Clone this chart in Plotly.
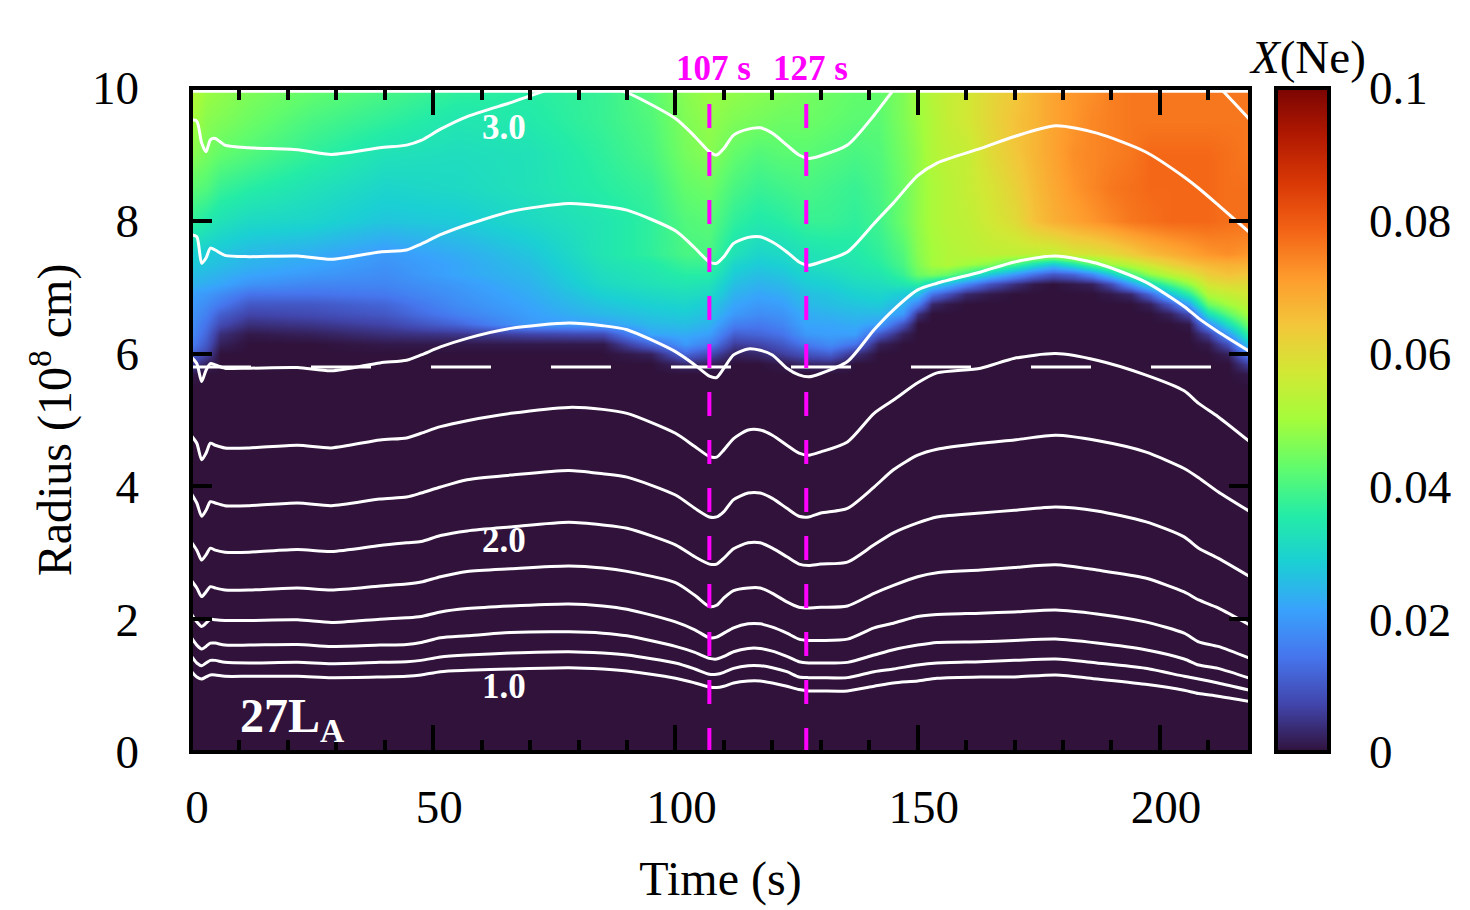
import numpy as np
import plotly.graph_objects as go

# the page body adds 8 px around the figure
BODY = 8
FIG_W = 1470 - BODY
FIG_H = 910 - BODY
SERIF = "Liberation Serif"

x_ticks = [0, 50, 100, 150, 200]
y_ticks = [0, 2, 4, 6, 8, 10]
cbar_ticks = [0, 0.02, 0.04, 0.06, 0.08, 0.1]
cbar_labels = ["0", "0.02", "0.04", "0.06", "0.08", "0.1"]
marker_times = [107, 127]
marker_labels = ["107 s", "127 s"]
shock_radius = 5.8

# contours of constant mass, radius in 10^8 cm
line_time = [0, 1.2, 2.2, 3.1, 4, 5, 7, 12, 22, 29, 39, 44.5, 47.5, 51.5, 57, 66, 78, 85, 90, 100,
             104, 107, 108.5, 110, 112, 115, 117.5, 120, 123, 125.5, 127.5, 130, 135.5, 141, 145,
             150, 154, 163, 170, 178.5, 187, 197, 205, 208, 212, 218.6]
line_1 = [1.22, 1.13, 1.10, 1.13, 1.16, 1.16, 1.14, 1.14, 1.14, 1.12, 1.13, 1.14, 1.16, 1.21, 1.23, 1.25, 1.27, 1.25, 1.22, 1.11,
          1.04, 0.98, 0.97, 0.99, 1.04, 1.07, 1.07, 1.04, 0.99, 0.94, 0.92, 0.92, 0.92, 0.99, 1.04,
          1.07, 1.11, 1.13, 1.13, 1.16, 1.10, 1.02, 0.93, 0.88, 0.84, 0.76]
line_2 = [1.45, 1.34, 1.30, 1.34, 1.38, 1.38, 1.35, 1.34, 1.35, 1.33, 1.35, 1.36, 1.38, 1.43, 1.46, 1.49, 1.51, 1.49, 1.46, 1.34,
          1.25, 1.17, 1.17, 1.20, 1.26, 1.30, 1.30, 1.27, 1.21, 1.13, 1.12, 1.12, 1.12, 1.21, 1.25,
          1.31, 1.34, 1.36, 1.38, 1.40, 1.34, 1.26, 1.14, 1.10, 1.04, 0.93]
line_3 = [1.73, 1.61, 1.55, 1.59, 1.64, 1.64, 1.61, 1.61, 1.62, 1.59, 1.61, 1.62, 1.65, 1.72, 1.75, 1.80, 1.81, 1.79, 1.75, 1.59,
          1.50, 1.41, 1.40, 1.44, 1.51, 1.56, 1.56, 1.52, 1.44, 1.36, 1.34, 1.34, 1.35, 1.46, 1.54,
          1.61, 1.65, 1.66, 1.68, 1.70, 1.64, 1.54, 1.40, 1.31, 1.26, 1.11]
line_4 = [2.09, 1.96, 1.89, 1.94, 2.00, 1.99, 1.98, 1.98, 1.99, 1.95, 2.00, 2.02, 2.04, 2.11, 2.16, 2.20, 2.23, 2.20, 2.15, 1.96,
          1.84, 1.72, 1.73, 1.79, 1.87, 1.93, 1.93, 1.88, 1.79, 1.70, 1.68, 1.68, 1.70, 1.87, 1.94,
          2.04, 2.07, 2.09, 2.11, 2.14, 2.08, 1.96, 1.79, 1.66, 1.59, 1.41]
line_5 = [2.59, 2.47, 2.34, 2.41, 2.49, 2.47, 2.44, 2.44, 2.47, 2.44, 2.50, 2.53, 2.56, 2.64, 2.72, 2.76, 2.80, 2.77, 2.72, 2.55,
          2.36, 2.19, 2.21, 2.32, 2.43, 2.47, 2.47, 2.39, 2.26, 2.18, 2.17, 2.18, 2.20, 2.39, 2.51,
          2.64, 2.70, 2.74, 2.78, 2.82, 2.74, 2.62, 2.41, 2.29, 2.17, 1.91]
line_6 = [3.17, 3.04, 2.89, 2.97, 3.07, 3.04, 3.01, 3.01, 3.05, 3.02, 3.11, 3.15, 3.17, 3.26, 3.33, 3.39, 3.46, 3.42, 3.37, 3.12,
          2.94, 2.83, 2.83, 2.92, 3.06, 3.15, 3.15, 3.07, 2.94, 2.83, 2.81, 2.83, 2.86, 3.12, 3.30,
          3.45, 3.54, 3.60, 3.64, 3.69, 3.63, 3.47, 3.24, 3.07, 2.92, 2.64]
line_7 = [3.90, 3.75, 3.55, 3.64, 3.77, 3.75, 3.71, 3.71, 3.75, 3.71, 3.81, 3.84, 3.90, 3.99, 4.10, 4.17, 4.24, 4.19, 4.14, 3.87,
          3.67, 3.54, 3.54, 3.62, 3.80, 3.90, 3.90, 3.82, 3.67, 3.55, 3.54, 3.60, 3.67, 3.99, 4.25,
          4.47, 4.56, 4.65, 4.70, 4.77, 4.69, 4.52, 4.27, 4.13, 3.92, 3.62]
line_8 = [4.77, 4.65, 4.40, 4.50, 4.65, 4.62, 4.58, 4.58, 4.62, 4.58, 4.70, 4.73, 4.80, 4.90, 4.99, 5.10, 5.19, 5.16, 5.10, 4.80,
          4.60, 4.45, 4.44, 4.55, 4.72, 4.85, 4.85, 4.77, 4.62, 4.50, 4.47, 4.52, 4.67, 5.10, 5.30,
          5.56, 5.71, 5.78, 5.93, 6.00, 5.90, 5.68, 5.44, 5.25, 5.05, 4.67]
line_9 = [5.95, 5.85, 5.58, 5.75, 5.85, 5.83, 5.78, 5.78, 5.79, 5.74, 5.86, 5.90, 5.98, 6.10, 6.23, 6.38, 6.46, 6.42, 6.36, 6.03,
          5.83, 5.66, 5.64, 5.78, 5.98, 6.07, 6.05, 5.98, 5.78, 5.68, 5.65, 5.70, 5.88, 6.36, 6.66,
          6.96, 7.06, 7.23, 7.38, 7.47, 7.36, 7.08, 6.71, 6.53, 6.33, 6.03]
line_10 = [7.79, 7.76, 7.36, 7.44, 7.59, 7.56, 7.48, 7.46, 7.47, 7.42, 7.53, 7.56, 7.65, 7.79, 7.94, 8.14, 8.26, 8.22, 8.16, 7.85,
           7.59, 7.38, 7.36, 7.46, 7.66, 7.75, 7.76, 7.68, 7.53, 7.38, 7.33, 7.38, 7.53, 7.96, 8.27,
           8.68, 8.87, 9.09, 9.27, 9.43, 9.32, 9.04, 8.66, 8.49, 8.24, 7.82]
line_11 = [9.52, 9.50, 9.17, 9.04, 9.22, 9.24, 9.14, 9.10, 9.07, 9.00, 9.10, 9.14, 9.21, 9.38, 9.57, 9.78, 10.06, 10.03, 9.93, 9.54,
           9.27, 9.04, 8.99, 9.09, 9.29, 9.38, 9.40, 9.32, 9.14, 8.99, 8.94, 8.98, 9.14, 9.59, 9.97,
           10.4, 10.6, 10.9, 11.0, 11.1, 11.0, 10.8, 10.5, 10.3, 10.03, 9.52]
contour_lines = [line_1, line_2, line_3, line_4, line_5, line_6, line_7, line_8, line_9, line_10, line_11]

# neon mass fraction, in units of 10^-3, rows follow map_radius
map_time = [0.5, 3, 6, 12, 25, 40, 55, 70, 85, 95, 102, 107, 112, 117, 122, 127, 132, 137, 142,
            147, 150, 153, 156, 160, 165, 170, 174, 178, 182, 186, 190, 194, 198, 202, 206, 210, 214, 218]
map_radius = [0, 5.5, 5.7, 5.85, 6.0, 6.15, 6.3, 6.45, 6.6, 6.75, 6.9, 7.05, 7.2, 7.35, 7.5, 8, 8.5, 9, 9.5, 9.95]
neon_milli = [
    [0] * 38,
    [0] * 38,
    [1] + [0] * 36 + [1],
    [6, 2, 0, 0, 0, 0, 0, 0, 0, 0, 3, 2, 0, 0, 1, 3, 3, 0, 0] + [0] * 18 + [6],
    [11, 7, 0, 0, 0, 0, 0, 0, 0, 2, 12, 8, 2, 3, 6, 9, 11, 4, 0] + [0] * 17 + [2, 15],
    [15, 10, 2, 0, 0, 1, 1, 1, 1, 12, 20, 16, 6, 7, 10, 15, 18, 14, 2] + [0] * 16 + [1, 9, 26],
    [17, 12, 4, 1, 2, 4, 5, 7, 8, 22, 23, 21, 11, 12, 14, 20, 21, 21, 10] + [2] + [0] * 15 + [6, 20, 36],
    [18, 14, 8, 4, 5, 7, 12, 20, 21, 25, 26, 24, 16, 15, 17, 22, 22, 23, 21] + [9] + [0] * 14 + [1, 18, 32, 44],
    [19, 16, 11, 7, 8, 10, 16, 21, 25, 27, 28, 26, 20, 18, 19, 23, 24, 25, 25] + [20, 4] + [0] * 12 + [2, 8, 32, 42, 50],
    [20, 18, 15, 10, 10, 12, 18, 22, 27, 29, 30, 28, 22, 20, 21, 25, 26, 27, 28,
     24, 16, 3, 1, 0, 0, 0, 0, 0, 0, 0, 0, 0, 2, 10, 22, 44, 50, 54],
    [21, 20, 18, 14, 14, 15, 19, 23, 29, 31, 32, 31, 24, 22, 23, 26, 27, 29, 30,
     28, 26, 14, 9, 3, 1, 0, 0, 0, 0, 0, 1, 3, 12, 26, 36, 52, 55, 57],
    [24, 23, 22, 19, 17, 17, 20, 24, 31, 33, 34, 33, 26, 24, 25, 28, 29, 31, 32,
     34, 36, 30, 25, 17, 9, 4, 1, 0, 1, 2, 8, 20, 32, 40, 48, 58, 60, 60],
    [26, 25, 24, 22, 20, 18, 22, 25, 32, 34, 36, 36, 28, 26, 27, 30, 31, 33, 34,
     38, 44, 46, 44, 38, 28, 20, 14, 10, 12, 18, 28, 40, 48, 54, 58, 63, 65, 64],
    [28, 27, 26, 24, 22, 19, 22, 26, 33, 35, 38, 38, 30, 28, 29, 32, 33, 34, 36,
     40, 46, 50, 52, 50, 47, 40, 33, 28, 34, 42, 50, 54, 58, 62, 65, 67, 68, 68],
    [29, 28, 27, 25, 23, 20, 23, 27, 34, 37, 40, 40, 33, 30, 31, 33, 34, 35, 37,
     41, 47, 50, 52, 53, 54, 54, 54, 54, 57, 58, 60, 63, 66, 68, 70, 72, 73, 72],
    [37, 35, 33, 31, 30, 27, 28, 31, 34, 37, 41, 42, 37, 35, 36, 38, 38, 37, 39,
     44, 48, 51, 53, 54, 57, 60, 65, 68, 70, 72, 74, 76, 77, 78, 78, 78, 77, 77],
    [42, 41, 38, 36, 33, 30, 31, 33, 36, 38, 43, 44, 40, 38, 39, 40, 39, 38, 40,
     44, 48, 51, 53, 55, 58, 62, 66, 69, 72, 74, 76, 77, 78, 78, 78, 78, 77, 77],
    [47, 45, 43, 41, 37, 33, 32, 33, 37, 40, 45, 47, 43, 41, 42, 42, 41, 40, 41,
     45, 48, 52, 54, 55, 60, 64, 67, 70, 73, 74, 75, 76, 78, 78, 78, 78, 77, 76],
    [50, 47, 46, 44, 40, 37, 34, 35, 38, 41, 46, 48, 46, 45, 44, 44, 43, 42, 42,
     46, 49, 52, 55, 57, 61, 65, 67, 70, 72, 74, 75, 76, 76, 76, 76, 76, 76, 76],
    [52, 49, 48, 46, 43, 40, 37, 36, 38, 42, 47, 49, 48, 47, 46, 45, 44, 43, 43,
     46, 50, 53, 55, 57, 61, 64, 67, 70, 72, 73, 75, 76, 76, 76, 76, 76, 76, 76],
]


def paper_x(px):
    return (px - BODY) / FIG_W


def paper_y(py):
    return 1 - (py - BODY) / FIG_H


fig = go.Figure()

fig.add_trace(go.Heatmap(
    x=map_time, y=map_radius, z=np.array(neon_milli) / 1000,
    colorscale="Turbo", zmin=0, zmax=0.1, zsmooth="best",
    colorbar=dict(
        x=paper_x(1276), xanchor="left", xpad=0,
        y=paper_y(752), yanchor="bottom", ypad=0,
        len=664 / FIG_H, lenmode="fraction",
        thickness=53, thicknessmode="pixels",
        outlinewidth=4, outlinecolor="black",
        tickmode="array", tickvals=cbar_ticks, ticktext=cbar_labels,
        ticks="outside", ticklen=29, tickwidth=1, tickcolor="rgba(0,0,0,0)",
        tickfont=dict(family=SERIF, size=47, color="black"),
    ),
))

# white gap under the top frame
fig.add_trace(go.Scatter(x=[0, 219], y=[9.95, 9.95], mode="lines", line=dict(color="white", width=2.7), showlegend=False))

for radius in contour_lines:
    fig.add_trace(go.Scatter(x=line_time, y=radius, mode="lines",
                             line=dict(color="white", width=3, shape="spline", smoothing=0.7), showlegend=False))

fig.add_trace(go.Scatter(x=[0, 219], y=[shock_radius, shock_radius], mode="lines",
                         line=dict(color="white", width=3, dash="60px,60px"), showlegend=False))

for t in marker_times:
    fig.add_trace(go.Scatter(x=[t, t], y=[9.76, 0], mode="lines",
                             line=dict(color="#ff00ff", width=4, dash="24px,24px"), showlegend=False))

for t, label in zip(marker_times, marker_labels):
    fig.add_annotation(x=t + 0.9, xref="x", y=paper_y(68), yref="paper", text=f"<b>{label}</b>", showarrow=False,
                       xanchor="center", yanchor="middle", font=dict(family=SERIF, size=35, color="#ff00ff"))
for label, y in [("3.0", 9.4), ("2.0", 3.19), ("1.0", 0.99)]:
    fig.add_annotation(x=64.6, y=y, xref="x", yref="y", text=f"<b>{label}</b>", showarrow=False,
                       font=dict(family=SERIF, size=35, color="white"))
fig.add_annotation(x=9.6, y=0.5, xref="x", yref="y", text="<b>27L<sub>A</sub></b>", showarrow=False, xanchor="left",
                   font=dict(family=SERIF, size=48, color="white"))
fig.add_annotation(x=paper_x(1307), y=paper_y(57), xref="paper", yref="paper", text="<i>X</i>(Ne)", showarrow=False,
                   xanchor="center", yanchor="middle", font=dict(family=SERIF, size=47, color="black"))

# frame centred on the plot edges
fig.add_shape(type="rect", xref="paper", yref="paper", layer="above",
              x0=paper_x(191), x1=paper_x(1250), y0=paper_y(752), y1=paper_y(88),
              line=dict(color="black", width=4))

# colour bar ticks, both sides
for v in cbar_ticks[1:-1]:
    for x0, x1 in [(1276, 1288), (1318, 1330)]:
        fig.add_shape(type="line", xref="paper", yref="paper",
                      x0=paper_x(x0), x1=paper_x(x1),
                      y0=paper_y(752 - v * 6640), y1=paper_y(752 - v * 6640),
                      line=dict(color="black", width=3))

fig.update_xaxes(
    domain=[paper_x(191), paper_x(1250)], range=[0, 218.6], automargin=False,
    tickmode="array", tickvals=x_ticks, ticktext=[str(v) for v in x_ticks],
    ticks="inside", ticklen=27, tickwidth=3.5, tickcolor="black",
    minor=dict(ticks="inside", ticklen=12, tickwidth=3.5, tickcolor="black", dtick=10, showgrid=False),
    showline=False, mirror="allticks",
    showgrid=False, zeroline=False, ticklabelstandoff=23, ticklabelshift=6,
    tickfont=dict(family=SERIF, size=47, color="black"),
    title=dict(text="Time (s)", font=dict(family=SERIF, size=48, color="black"), standoff=29),
)
fig.update_yaxes(
    domain=[paper_y(752), paper_y(88)], range=[0, 10], automargin=False,
    tickmode="array", tickvals=y_ticks, ticktext=[str(v) for v in y_ticks],
    ticks="inside", ticklen=21, tickwidth=3.5, tickcolor="black",
    showline=False, mirror="allticks",
    showgrid=False, zeroline=False, ticklabelstandoff=51,
    tickfont=dict(family=SERIF, size=47, color="black"),
    title=dict(text="Radius (10<sup>8</sup> cm)", font=dict(family=SERIF, size=48, color="black"), standoff=5),
)
fig.update_layout(
    width=FIG_W, height=FIG_H,
    margin=dict(l=0, r=0, t=0, b=0, autoexpand=False),
    paper_bgcolor="white", plot_bgcolor="white",
    showlegend=False,
)

fig.write_html("out.html")
